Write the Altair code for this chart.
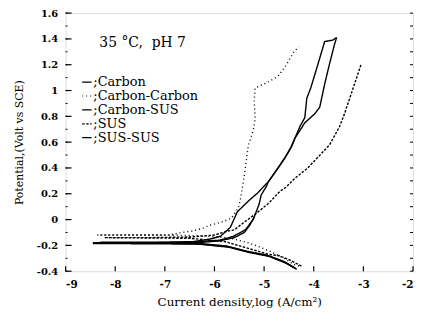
import altair as alt
import pandas as pd

series_names = ["Carbon", "Carbon-Carbon", "Carbon-SUS", "SUS", "SUS-SUS"]

carbon_x = [-4.36, -4.58, -4.92, -5.32, -5.72, -6.3, -7.0, -8.45,
            -7.5, -6.5, -6.08, -5.88, -5.68, -5.54, -5.3, -5.12, -5.0, -4.92, -4.72, -4.58,
            -4.46, -4.38, -4.28, -4.18, -4.14, -4.06, -3.88, -3.78, -3.62, -3.54]
carbon_y = [-0.38, -0.33, -0.28, -0.25, -0.21, -0.19, -0.18, -0.18,
            -0.18, -0.175, -0.15, -0.13, -0.06, 0.06, 0.15, 0.21, 0.26, 0.29, 0.40, 0.48,
            0.56, 0.63, 0.72, 0.79, 0.94, 1.02, 1.25, 1.38, 1.39, 1.41]

cc_x = [-4.3, -4.38, -4.6, -4.86, -5.1, -5.32, -5.72, -6.3, -7.0, -8.36,
        -7.5, -6.92, -6.66, -6.46, -6.26, -6.06, -5.86, -5.66, -5.52, -5.48, -5.42, -5.36,
        -5.32, -5.22, -5.18, -5.2, -5.18, -4.95, -4.72, -4.55, -4.4, -4.3]
cc_y = [-0.36, -0.35, -0.30, -0.25, -0.21, -0.18, -0.14, -0.125, -0.12, -0.12,
        -0.12, -0.12, -0.10, -0.09, -0.07, -0.04, -0.02, 0.01, 0.09, 0.15, 0.29, 0.45,
        0.57, 0.69, 0.78, 0.92, 1.02, 1.06, 1.11, 1.20, 1.30, 1.34]

cs_x = [-4.4, -4.6, -4.95, -5.35, -5.75, -6.3, -8.3,
        -7.0, -6.3, -5.9, -5.62, -5.38, -5.22, -5.1, -5.06, -4.95, -4.92, -4.7, -4.56,
        -4.44, -4.38, -4.18, -3.98, -3.88, -3.78, -3.68, -3.58, -3.54]
cs_y = [-0.37, -0.325, -0.275, -0.245, -0.205, -0.185, -0.175,
        -0.175, -0.17, -0.16, -0.13, -0.08, 0.0, 0.12, 0.19, 0.26, 0.29, 0.41, 0.49,
        0.57, 0.63, 0.75, 0.82, 0.87, 1.05, 1.21, 1.36, 1.41]

sus_x = [-4.25, -4.5, -4.7, -4.9, -5.3, -5.8, -6.5, -8.22,
         -7.3, -6.5, -6.0, -5.75, -5.6, -5.4, -5.15, -4.9, -4.68, -4.56, -4.38, -4.12,
         -3.9, -3.68, -3.48, -3.38, -3.24, -3.04]
sus_y = [-0.36, -0.31, -0.28, -0.27, -0.225, -0.17, -0.145, -0.14,
         -0.14, -0.135, -0.12, -0.09, -0.08, -0.02, 0.05, 0.13, 0.22, 0.25, 0.32, 0.40,
         0.49, 0.58, 0.72, 0.82, 0.98, 1.21]

ss_x = [-4.34, -4.55, -4.9, -5.3, -5.7, -6.3, -8.45,
        -7.0, -6.2, -5.9, -5.6, -5.4, -5.3, -5.2]
ss_y = [-0.385, -0.34, -0.285, -0.255, -0.215, -0.19, -0.185,
        -0.18, -0.175, -0.165, -0.14, -0.10, -0.05, 0.02]

x_ticks = [-9, -8, -7, -6, -5, -4, -3, -2]
y_ticks = [-0.4, -0.2, 0, 0.2, 0.4, 0.6, 0.8, 1, 1.2, 1.4, 1.6]
y_minor = [round(-0.4 + 0.1 * k, 1) for k in range(21)]

note_text = ["35 \u00b0C,\u00a0 pH 7"]
note_x = [-8.32]
note_y = [1.37]

rows = []
for name, xs, ys in zip(series_names,
                        [carbon_x, cc_x, cs_x, sus_x, ss_x],
                        [carbon_y, cc_y, cs_y, sus_y, ss_y]):
    for i, (a, b) in enumerate(zip(xs, ys)):
        rows.append({"series": name, "i": i, "x": a, "y": b})
df = pd.DataFrame(rows)

FONT = "DejaVu Serif"
xscale = alt.Scale(domain=[-9, -2], nice=False, zero=False)
yscale = alt.Scale(domain=[-0.4, 1.6], nice=False, zero=False)

xaxis = alt.Axis(values=x_ticks, ticks=False, domain=False, grid=False,
                 labelExpr="toString(datum.value)", labelOverlap=False,
                 labelFontSize=10.5, labelFontWeight="bold", labelPadding=8,
                 title="Current density,log (A/cm\u00b2)",
                 titleFontSize=12, titleFontWeight="normal", titlePadding=7)
yaxis = alt.Axis(values=y_ticks, ticks=False, domain=False, grid=False,
                 labelExpr="toString(round(datum.value*10)/10)",
                 labelOverlap=False, labelFlush=False,
                 labelFontSize=10, labelFontWeight="bold", labelPadding=8,
                 title="Potential,(Volt vs SCE)",
                 titleFontSize=11, titleFontWeight="normal", titlePadding=12)

dashes = [[1, 0], [1, 3], [1, 0], [2.5, 1.5], [1, 0]]

lines = alt.Chart(df).mark_line(color="black", strokeWidth=1.4).encode(
    x=alt.X("x:Q", scale=xscale, axis=xaxis),
    y=alt.Y("y:Q", scale=yscale, axis=yaxis),
    strokeDash=alt.StrokeDash("series:N",
                              scale=alt.Scale(domain=series_names, range=dashes),
                              legend=alt.Legend(title=None, orient="none",
                                                legendX=15, legendY=63, padding=0,
                                                symbolType="stroke", symbolSize=90,
                                                symbolStrokeColor="black",
                                                symbolStrokeWidth=1.2,
                                                labelFontSize=13,
                                                labelExpr="';' + datum.label",
                                                labelOffset=0, rowPadding=0)),
    order="i:Q",
    detail="series:N",
)

yt = alt.Chart(pd.DataFrame({"y": y_ticks})).mark_rule(color="black", strokeWidth=1.2).encode(
    y=alt.Y("y:Q", scale=yscale, axis=yaxis), x=alt.value(0), x2=alt.value(6))
yl = alt.Chart(pd.DataFrame({"y": y_minor})).mark_rule(color="black", strokeWidth=1).encode(
    y=alt.Y("y:Q", scale=yscale, axis=yaxis), x=alt.value(0), x2=alt.value(2))
yr = alt.Chart(pd.DataFrame({"y": y_minor})).mark_rule(color="black", strokeWidth=1).encode(
    y=alt.Y("y:Q", scale=yscale, axis=yaxis), x=alt.value(350), x2=alt.value(347))
xt = alt.Chart(pd.DataFrame({"x": x_ticks})).mark_rule(color="black", strokeWidth=1.2).encode(
    x=alt.X("x:Q", scale=xscale, axis=xaxis), y=alt.value(260), y2=alt.value(255))

note = alt.Chart(pd.DataFrame({"t": note_text, "x": note_x, "y": note_y})).mark_text(
    align="left", baseline="middle", fontSize=14, color="black").encode(
    x=alt.X("x:Q", scale=xscale, axis=xaxis), y=alt.Y("y:Q", scale=yscale, axis=yaxis),
    text="t:N")

chart = alt.layer(lines, yt, yl, yr, xt, note).properties(
    width=350, height=260,
    autosize=alt.AutoSizeParams(type="none"),
    padding={"left": 58, "top": 4, "right": 2, "bottom": 45},
).configure_view(stroke="black", strokeWidth=1.8).configure(
    background="white", font=FONT
).configure_axis(
    labelFont=FONT, titleFont=FONT, labelColor="black", titleColor="black"
).configure_legend(
    labelFont=FONT, labelColor="black"
).configure_text(font=FONT)

chart.save("out.html", embed_options={"renderer": "svg", "actions": False})
